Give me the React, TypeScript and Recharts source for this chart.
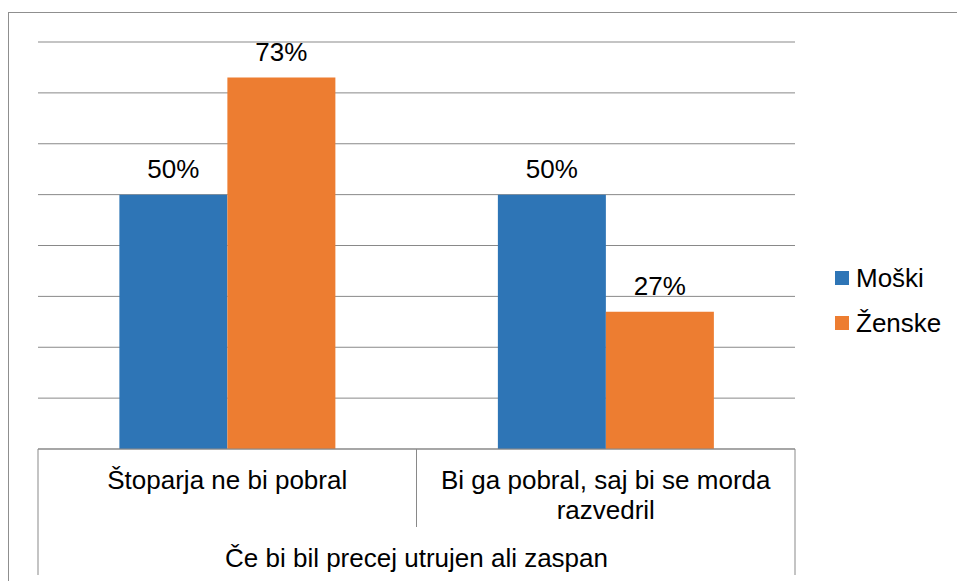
import React from 'react';
import { BarChart, Bar, XAxis, YAxis, CartesianGrid, LabelList, Legend } from 'recharts';

const categories = ['Štoparja ne bi pobral', 'Bi ga pobral, saj bi se morda razvedril'];
const groupLabel = 'Če bi bil precej utrujen ali zaspan';
const moski = [50, 50];
const zenske = [73, 27];
const yTicks = [0, 10, 20, 30, 40, 50, 60, 70, 80];

const data = categories.map((c, i) => ({ category: c, moski: moski[i], zenske: zenske[i] }));

const W = 957;
const H = 581;
const MARGIN = { top: 42, right: 162, left: 38, bottom: 0 };
const XAXIS_H = 132;
const PLOT_W = W - MARGIN.left - MARGIN.right;
const BAND = PLOT_W / categories.length;
const FONT = '"Liberation Sans", Arial, Helvetica, sans-serif';
const GRID = '#898989';

let ctx: CanvasRenderingContext2D | null = null;
function measure(s: string): number {
  if (!ctx && typeof document !== 'undefined') {
    ctx = document.createElement('canvas').getContext('2d');
  }
  if (!ctx) return s.length * 13;
  ctx.font = `26px ${FONT}`;
  return ctx.measureText(s).width;
}

function wrap(s: string, maxW: number): string[] {
  const words = s.split(' ');
  const lines: string[] = [];
  let cur = '';
  words.forEach((w) => {
    const test = cur ? cur + ' ' + w : w;
    if (cur && measure(test) > maxW) {
      lines.push(cur);
      cur = w;
    } else {
      cur = test;
    }
  });
  if (cur) lines.push(cur);
  return lines;
}

const CategoryTick = (props: any) => {
  const { x, y, payload, index } = props;
  const n = categories.length;
  const left = x - BAND / 2;
  const right = x + BAND / 2;
  const isLast = index === n - 1;
  const lines = wrap(String(payload.value), BAND - 24);
  return (
    <g>
      {index === 0 && <line x1={left} x2={left} y1={y} y2={y + 126} stroke={GRID} strokeWidth={1} />}
      <line x1={right} x2={right} y1={y} y2={isLast ? y + 126 : y + 78} stroke={GRID} strokeWidth={1} />
      <text x={x} y={y + 40} textAnchor="middle" fontSize={26} fill="#000" fontFamily={FONT}>
        {lines.map((l, i) => (
          <tspan key={i} x={x} dy={i === 0 ? 0 : 30}>
            {l}
          </tspan>
        ))}
      </text>
      {index === 0 && (
        <text x={left + (BAND * n) / 2} y={y + 118} textAnchor="middle" fontSize={26} fill="#000" fontFamily={FONT}>
          {groupLabel}
        </text>
      )}
    </g>
  );
};

const LegendContent = (props: any) => {
  const { payload } = props;
  return (
    <div style={{ fontFamily: FONT }}>
      {(payload || []).map((p: any, i: number) => (
        <div key={i} style={{ display: 'flex', alignItems: 'center', height: 30, marginBottom: 15 }}>
          <div style={{ width: 14, height: 14, background: p.color, marginRight: 7 }} />
          <span style={{ fontSize: 26, lineHeight: '30px', color: '#000' }}>{p.value}</span>
        </div>
      ))}
    </div>
  );
};

export default function App() {
  return (
    <div style={{ position: 'absolute', left: 0, top: 0, width: W, height: H, overflow: 'hidden', background: '#fff' }}>
      <div
        style={{
          position: 'absolute',
          left: 8,
          top: 12,
          width: 2000,
          height: 2000,
          borderLeft: '1px solid #8f8f8f',
          borderTop: '1px solid #8f8f8f',
        }}
      />
      <div style={{ position: 'absolute', left: 0, top: 0 }}>
        <BarChart
          width={W}
          height={H}
          data={data}
          margin={MARGIN}
          barCategoryGap="21.5%"
          barGap={0}
          style={{ fontFamily: FONT }}
        >
          <CartesianGrid vertical={false} stroke={GRID} strokeWidth={1} />
          <YAxis hide width={0} domain={[0, 80]} ticks={yTicks} type="number" />
          <XAxis
            dataKey="category"
            height={XAXIS_H}
            axisLine={{ stroke: GRID, strokeWidth: 1 }}
            tickLine={false}
            tickSize={0}
            tickMargin={0}
            interval={0}
            tick={<CategoryTick />}
          />
          <Legend
            layout="horizontal"
            verticalAlign="middle"
            align="center"
            content={<LegendContent />}
            wrapperStyle={{ position: 'absolute', left: 835, top: 263, width: 'auto', height: 'auto' }}
          />
          <Bar dataKey="moski" name="Moški" fill="#2E75B6" isAnimationActive={false}>
            <LabelList
              dataKey="moski"
              position="top"
              offset={17}
              formatter={(v: any) => `${v}%`}
              fill="#000"
              fontSize={26}
              fontFamily={FONT}
            />
          </Bar>
          <Bar dataKey="zenske" name="Ženske" fill="#ED7D31" isAnimationActive={false}>
            <LabelList
              dataKey="zenske"
              position="top"
              offset={17}
              formatter={(v: any) => `${v}%`}
              fill="#000"
              fontSize={26}
              fontFamily={FONT}
            />
          </Bar>
        </BarChart>
      </div>
    </div>
  );
}
